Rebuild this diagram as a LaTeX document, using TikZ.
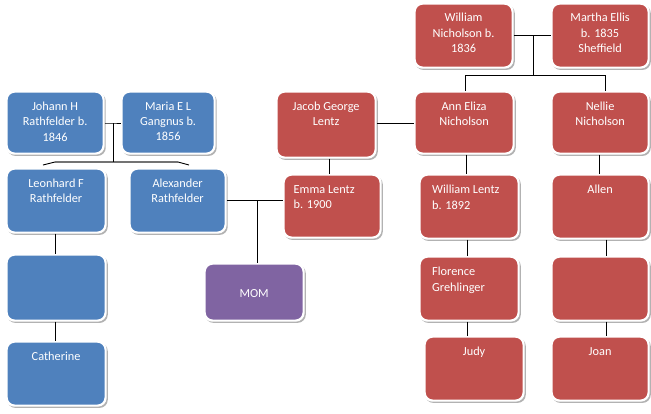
\documentclass[tikz,border=0pt]{standalone}
\usepackage{fontspec}
\setmainfont{Carlito}
\usetikzlibrary{shadows}
\definecolor{oblue}{RGB}{79,129,189}
\definecolor{ored}{RGB}{192,80,77}
\definecolor{opurple}{RGB}{128,100,162}
\tikzset{
  boxbase/.style={rectangle, rounded corners=8pt, draw=white, line width=2.2pt, inner sep=0pt, anchor=north west,
    drop shadow={shadow xshift=1.4pt, shadow yshift=-1.8pt, shadow scale=1.015, fill=black, opacity=0.3}},
  bluebox/.style={boxbase, fill=oblue},
  redbox/.style={boxbase, fill=ored},
  purplebox/.style={boxbase, fill=opurple},
  txt/.style={text=white, font=\fontsize{12.3}{15.4}\selectfont, inner sep=0pt, align=center, anchor=north},
  ltxt/.style={text=white, font=\fontsize{12.3}{15.4}\selectfont, inner sep=0pt, align=left, anchor=north west},
  conn/.style={draw=black, line width=0.9pt},
  grayconn/.style={draw=black!55, line width=1.1pt}
}
\begin{document}
\begin{tikzpicture}[x=1pt, y=-1pt]
\useasboundingbox[fill=white] (0,0) rectangle (651,413);
% blue family
\node[bluebox, minimum width=97pt, minimum height=62pt] (jh) at (5.5,90.5) {};
\node[bluebox, minimum width=93pt, minimum height=62pt] (ml) at (120.5,90.5) {};
\node[bluebox, minimum width=99pt, minimum height=64pt] (lf) at (5.5,167.5) {};
\node[bluebox, minimum width=96pt, minimum height=64pt] (ar) at (128.5,167.5) {};
\node[bluebox, minimum width=99pt, minimum height=66pt] (bb) at (5.5,253.5) {};
\node[bluebox, minimum width=99pt, minimum height=64pt] (ca) at (5.5,340.5) {};
\node[purplebox, minimum width=99pt, minimum height=57pt] (mom) at (203.5,262.5) {};
% red family
\node[redbox, minimum width=99pt, minimum height=66pt] (jg) at (275.5,90.5) {};
\node[redbox, minimum width=97pt, minimum height=63pt] (em) at (282.5,173.5) {};
\node[redbox, minimum width=98pt, minimum height=64pt] (wn) at (413.5,2.5) {};
\node[redbox, minimum width=97pt, minimum height=64pt] (mt) at (550.5,2.5) {};
\node[redbox, minimum width=99pt, minimum height=62pt] (an) at (413.5,90.5) {};
\node[redbox, minimum width=97pt, minimum height=62pt] (nl) at (550.5,90.5) {};
\node[redbox, minimum width=99pt, minimum height=64pt] (wl) at (418.5,173.5) {};
\node[redbox, minimum width=97pt, minimum height=64pt] (al) at (550.5,173.5) {};
\node[redbox, minimum width=99pt, minimum height=64pt] (fl) at (418.5,255.5) {};
\node[redbox, minimum width=97pt, minimum height=64pt] (rb) at (550.5,255.5) {};
\node[redbox, minimum width=99pt, minimum height=64pt] (ju) at (423.5,335.5) {};
\node[redbox, minimum width=97pt, minimum height=64pt] (jo) at (550.5,335.5) {};
% texts
\node[txt] (jht) at ([yshift=-11pt]jh.north) {Johann H\\Rathfelder b.\\1846};
\node[txt] (mlt) at ([yshift=-11pt]ml.north) {Maria E L\\Gangnus b.\\1856};
\node[txt] (lft) at ([yshift=-11pt]lf.north) {Leonhard F\\Rathfelder};
\node[txt] (art) at ([yshift=-11pt]ar.north) {Alexander\\Rathfelder};
\node[txt] (cat) at ([yshift=-11.5pt]ca.north) {Catherine};
\node[txt, anchor=center] (momt) at ([yshift=-1pt]mom.center) {MOM};
\node[txt] (jgt) at ([yshift=-11pt]jg.north) {Jacob George\\Lentz};
\node[ltxt] (emt) at ([xshift=11pt, yshift=-12pt]em.north west) {Emma Lentz\\b. 1900};
\node[txt] (wnt) at ([yshift=-10.5pt]wn.north) {William\\Nicholson b.\\1836};
\node[txt] (mtt) at ([yshift=-10.5pt]mt.north) {Martha Ellis\\b. 1835\\Sheffield};
\node[txt] (ant) at ([yshift=-11pt]an.north) {Ann Eliza\\Nicholson};
\node[txt] (nlt) at ([yshift=-11pt]nl.north) {Nellie\\Nicholson};
\node[ltxt] (wlt) at ([xshift=13.5pt, yshift=-11.5pt]wl.north west) {William Lentz\\b. 1892};
\node[txt] (alt) at ([yshift=-11pt]al.north) {Allen};
\node[ltxt] (flt) at ([xshift=13.5pt, yshift=-11.5pt]fl.north west) {Florence\\Grehlinger};
\node[txt] (jut) at ([yshift=-11.5pt]ju.north) {Judy};
\node[txt] (jot) at ([yshift=-11.5pt]jo.north) {Joan};
% connectors: Rathfelder parents
\coordinate (jmid) at (113,123);
\coordinate (jbar) at (113,162);
\coordinate (jbl) at (55,162);
\coordinate (jbr) at (178,162);
\coordinate (jel) at (43,165);
\coordinate (jer) at (189,165);
\draw[conn] (jh.east |- jmid) -- (jmid) -- (jmid -| ml.west);
\draw[grayconn] (jbl) -- (jbr);
\draw[conn] (jmid) -- (jbar);
\draw[conn] (jbl) -- (jel);
\draw[conn] (jbr) -- (jer);
% Leonhard line
\draw[conn] ([xshift=-1pt]lf.south) -- ([xshift=-1pt]lf.south |- bb.north);
\draw[conn] ([xshift=-1pt]bb.south) -- ([xshift=-1pt]bb.south |- ca.north);
% Alexander - Emma - MOM
\coordinate (amj) at (257,200);
\draw[conn] (ar.east |- amj) -- (amj -| em.west);
\draw[conn] (amj) -- (amj |- mom.north);
% Jacob - Ann, Jacob - Emma
\draw[conn] (jg.east |- 0,123) -- (an.west |- 0,123);
\draw[conn] ([xshift=3pt]jg.south) -- ([xshift=3pt]jg.south |- em.north);
% Nicholson parents
\coordinate (nmid) at (533,35);
\coordinate (nbar) at (533,75);
\coordinate (nbl) at (465,75);
\coordinate (nbr) at (605,75);
\draw[conn] (wn.east |- nmid) -- (nmid -| mt.west);
\draw[conn] (nmid) -- (nbar);
\draw[conn] (nbl |- an.north) -- (nbl) -- (nbr) -- (nbr |- nl.north);
% Ann line
\draw[conn] ([xshift=2pt]an.south) -- ([xshift=2pt]an.south |- wl.north);
\draw[conn] ([xshift=-2pt]wl.south) -- ([xshift=-2pt]wl.south |- fl.north);
\draw[conn] ([xshift=-2pt]fl.south) -- ([xshift=-2pt]fl.south |- ju.north);
% Nellie line
\draw[conn] ([xshift=-1pt]nl.south) -- ([xshift=-1pt]nl.south |- al.north);
\draw[conn] ([xshift=6pt]al.south) -- ([xshift=6pt]al.south |- rb.north);
\draw[conn] ([xshift=6pt]rb.south) -- ([xshift=6pt]rb.south |- jo.north);
\end{tikzpicture}
\end{document}
